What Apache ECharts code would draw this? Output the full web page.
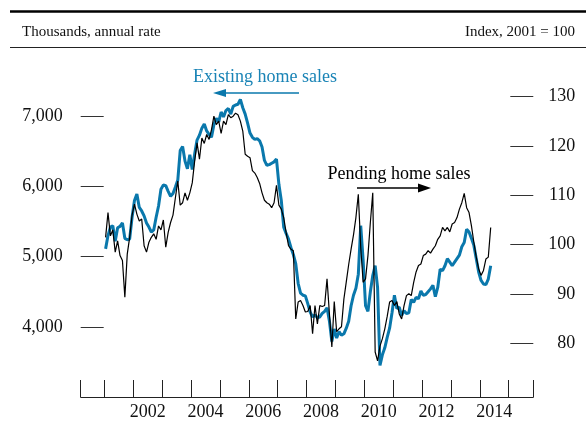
<!DOCTYPE html>
<html>
<head>
    <meta charset="UTF-8">
    <script src="https://cdn.jsdelivr.net/npm/echarts@6/dist/echarts.min.js"></script>
    <style>
      html, body { margin: 0; padding: 0; background: #fff; }
      #main { width: 586px; height: 421px; }
    </style>
</head>
<body>
<div id="main"></div>
<script>
    // monthly data, Jan 2001 .. May 2014
    var startYear = 2001;

    // existing home sales, thousands, annual rate (left axis)
    var existingSales = [
        5110, 5300, 5420, 5440, 5220, 5410, 5430, 5480, 5260, 5240, 5250, 5560,
        5800, 5890, 5700, 5650, 5580, 5480, 5420, 5350, 5380, 5560, 5720, 5960,
        6020, 6010, 5930, 5860, 5900, 5990, 6090, 6510, 6570, 6360, 6250, 6450,
        6240, 6460, 6660, 6730, 6830, 6890, 6790, 6740, 6700, 6880, 6970, 6920,
        7060, 6990, 7080, 7110, 7030, 7140, 7160, 7170, 7240, 7120, 7030, 6900,
        6760, 6700, 6670, 6680, 6650, 6560, 6370, 6300, 6310, 6330, 6350, 6390,
        6030, 5800, 5420, 5330, 5250, 5130, 5030, 4900, 4620, 4480, 4450, 4440,
        4330, 4210, 4140, 4170, 4130, 4140, 4190, 4220, 4270, 4080, 3790, 3970,
        3840, 3930, 3880, 3900, 3980, 4080, 4300, 4450, 4550, 4750, 5440, 4950,
        4300, 4220, 4500, 4730, 4870, 4560, 3450, 3600, 3700, 3850, 3980, 4200,
        4450, 4260, 4280, 4160, 4230, 4190, 4200, 4390, 4350, 4420, 4400, 4510,
        4450, 4460, 4500, 4540, 4590, 4430, 4560, 4820, 4800, 4870, 4970, 4920,
        4870, 4920, 4970, 5020, 5140, 5200, 5390, 5350, 5260, 5160, 4970, 4780,
        4660, 4610, 4600, 4680, 4870
    ];

    // pending home sales index, 2001 = 100 (right axis)
    var pendingIndex = [
        101.5, 106.5, 101.8, 103, 98.5, 100.8, 97.8, 96.8, 89.4, 98.1, 101.5, 106,
        108.2, 106.2, 104.8, 105.2, 99.8, 98.5, 100.5, 101.5, 102.2, 101.1, 103.8, 103,
        105, 99.5, 102.5, 104.5, 106, 109.5, 112.9, 108, 108.5, 110.5, 109, 110.5,
        112.5, 116.9, 120.6, 117.3, 121.6, 120.5, 122.3, 121.3, 123.3, 126, 124.3, 125,
        122.5, 125, 124.3, 126.3, 125.7, 126, 126.6, 126.3, 125, 123, 118.3, 117.9,
        117.6, 115, 114.5, 113.6, 112.4, 110.5, 109, 108.5, 108.2, 107.5, 108.5, 112,
        108, 107.2, 105.5, 102.5, 99.8, 99.1, 98.8, 85, 88.4, 88.7, 87.7, 86.4,
        86.5, 87.7, 82, 87.7, 84, 87.7, 87.5, 87.7, 93.1, 86, 79.3, 88.5,
        82.4, 83, 83.4, 89, 92.5, 96, 99.1, 102, 105.5, 110.2, 99.5, 92.4,
        93.1, 97.8, 104.5, 110.5, 78.3, 76.5, 79.5, 81, 83, 85.5, 88.4, 88.7,
        87.7, 88.5, 86, 85, 87.7, 89.7, 90.1, 89.7, 92.4, 94.5, 95.8, 96.1,
        97.8, 98.1, 98.8, 98.3, 99.1, 99.8, 101.1, 101.8, 103.5, 102.8, 103.5, 102.6,
        104.2, 104.5, 105.5, 107.2, 108.5, 110.4, 107.5, 106.5, 103.8, 100.5, 97.5, 95.1,
        93.8, 94.8, 97.1, 97.5, 103.5
    ];

    var leftTicks = [4000, 5000, 6000, 7000];
    var rightTicks = [80, 90, 100, 110, 120, 130];
    var yearTicks = [2001, 2002, 2003, 2004, 2005, 2006, 2007, 2008,
                     2009, 2010, 2011, 2012, 2013, 2014, 2015];
    var yearLabels = [2002, 2004, 2006, 2008, 2010, 2012, 2014];

    var xMin = 2000.18, xMax = 2015.85;
    var BLUE = '#0a78ac';
    var FONT = '"Liberation Serif", "Times New Roman", serif';

    // month index -> decimal year (mid-month)
    function toPairs(arr) {
        return arr.map(function (v, i) { return [startYear + (i + 0.5) / 12, v]; });
    }

    var myChart = echarts.init(document.getElementById('main'));
    var option = {
        animation: false,
        grid: { left: 80.7, right: 52.7, top: 46, bottom: 22.2 },
        xAxis: {
            type: 'value',
            min: xMin,
            max: xMax,
            splitLine: { show: false },
            axisLine: { show: true, lineStyle: { color: '#222', width: 1 } },
            axisTick: {
                show: true, inside: true, length: 17,
                customValues: [xMin].concat(yearTicks, [xMax]),
                lineStyle: { color: '#222', width: 1 }
            },
            axisLabel: {
                customValues: yearLabels.map(function (y) { return y + 0.5; }),
                formatter: function (v) { return String(Math.floor(v)); },
                margin: 6,
                color: '#111',
                fontFamily: FONT,
                fontSize: 18
            }
        },
        yAxis: [{
            type: 'value',
            position: 'left',
            min: 3000,
            max: 8000,
            interval: 1000,
            splitLine: { show: false },
            axisLine: { show: false },
            axisTick: {
                show: true, inside: true, length: 23,
                customValues: leftTicks,
                lineStyle: { color: '#333', width: 1 }
            },
            axisLabel: {
                customValues: leftTicks,
                formatter: function (v) { return v.toLocaleString('en-US'); },
                margin: 18,
                padding: [4, 0, 0, 0],
                color: '#111',
                fontFamily: FONT,
                fontSize: 18
            }
        }, {
            type: 'value',
            position: 'right',
            min: 69.2,
            max: 140.2,
            splitLine: { show: false },
            axisLine: { show: false },
            axisTick: {
                show: true, inside: true, length: 23,
                customValues: rightTicks,
                lineStyle: { color: '#333', width: 1 }
            },
            axisLabel: {
                customValues: rightTicks,
                align: 'right',
                margin: 42,
                padding: [4, 0, 0, 0],
                color: '#111',
                fontFamily: FONT,
                fontSize: 18
            }
        }],
        series: [{
            name: 'Existing home sales',
            type: 'line',
            yAxisIndex: 0,
            data: toPairs(existingSales),
            showSymbol: false,
            lineStyle: { color: BLUE, width: 3 },
            z: 2
        }, {
            name: 'Pending home sales',
            type: 'line',
            yAxisIndex: 1,
            data: toPairs(pendingIndex),
            showSymbol: false,
            lineStyle: { color: '#000', width: 1.2 },
            z: 3
        }],
        graphic: [
            { type: 'line', shape: { x1: 10, y1: 11.5, x2: 586, y2: 11.5 },
              style: { stroke: '#000', lineWidth: 2.5 } },
            { type: 'line', shape: { x1: 10, y1: 47.5, x2: 586, y2: 47.5 },
              style: { stroke: '#222', lineWidth: 1 } },
            { type: 'text', left: 22, top: 25,
              style: { text: 'Thousands, annual rate', font: '15px ' + FONT, fill: '#111' } },
            { type: 'text', right: 11, top: 25,
              style: { text: 'Index, 2001 = 100', font: '15px ' + FONT, fill: '#111' } },
            // annotations
            { type: 'text', x: 265, y: 77,
              style: { text: 'Existing home sales', font: '18px ' + FONT, fill: '#1a84b6',
                       align: 'center', verticalAlign: 'middle' } },
            { type: 'line', shape: { x1: 223, y1: 93, x2: 299, y2: 93 },
              style: { stroke: BLUE, lineWidth: 1.3 } },
            { type: 'polygon', shape: { points: [[213, 93], [226, 89], [226, 97]] },
              style: { fill: BLUE } },
            { type: 'text', x: 399, y: 174,
              style: { text: 'Pending home sales', font: '18px ' + FONT, fill: '#000',
                       align: 'center', verticalAlign: 'middle' } },
            { type: 'line', shape: { x1: 357, y1: 188, x2: 420, y2: 188 },
              style: { stroke: '#000', lineWidth: 1.3 } },
            { type: 'polygon', shape: { points: [[431, 188], [418, 183.5], [418, 192.5]] },
              style: { fill: '#000' } }
        ]
    };

    myChart.setOption(option);
</script>
</body>
</html>
